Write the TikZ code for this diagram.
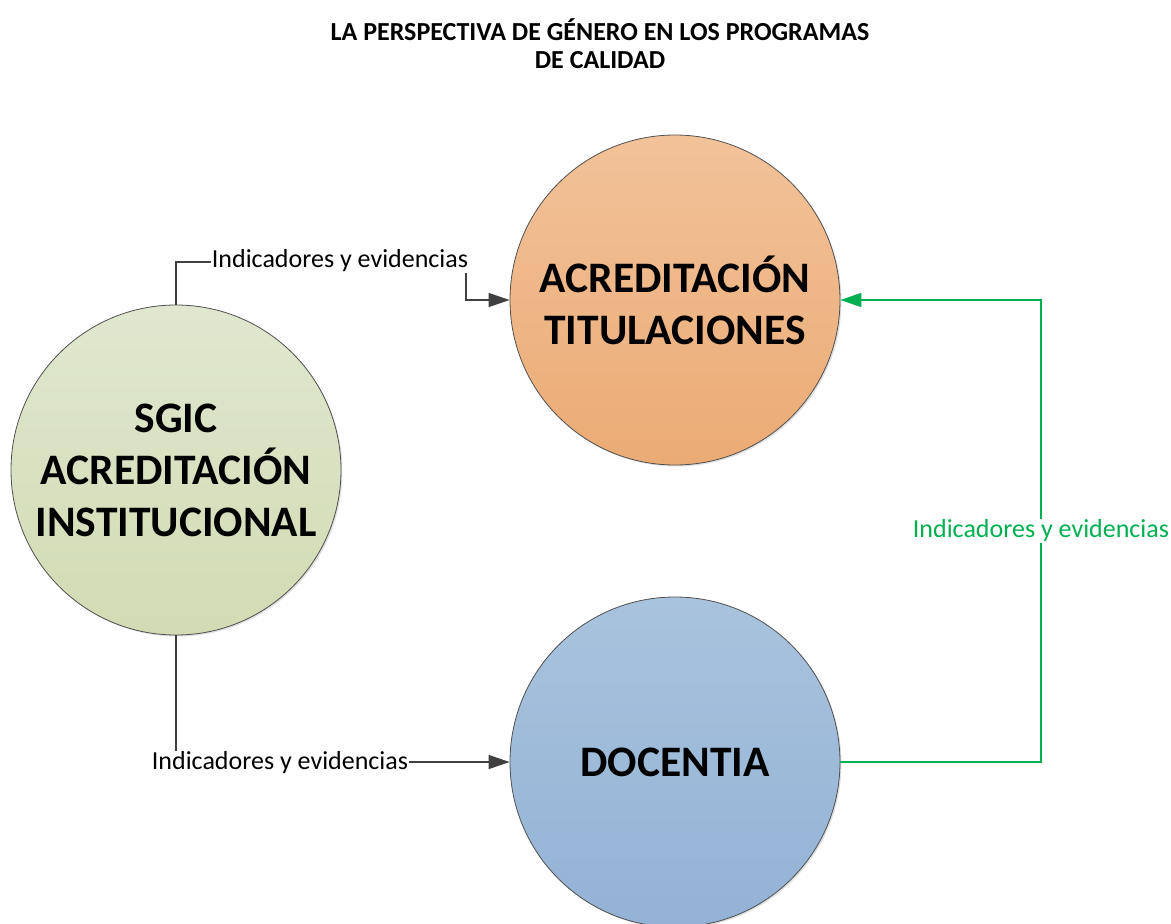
\documentclass[tikz,border=0pt]{standalone}
\usepackage{fontspec}
\setmainfont{Carlito}
\usetikzlibrary{arrows.meta,shadows}
\definecolor{lnk}{HTML}{404040}
\definecolor{grn}{HTML}{00B050}
\definecolor{outl}{HTML}{505050}
\definecolor{gtop}{HTML}{E0E7CF}
\definecolor{gbot}{HTML}{D2DBB3}
\definecolor{otop}{HTML}{F2C299}
\definecolor{obot}{HTML}{EBAB75}
\definecolor{btop}{HTML}{A9C3DD}
\definecolor{bbot}{HTML}{93B2D6}
\tikzset{
  bigcirc/.style={circle, draw=outl, line width=0.8pt, minimum size=330pt, inner sep=0pt,
    align=center, font=\fontsize{43.5}{52}\selectfont\bfseries,
    drop shadow={shadow xshift=1.5pt, shadow yshift=-1.5pt, fill=black!25}},
  conn/.style={draw=lnk, line width=1.3pt},
  tip/.style={-{Triangle[length=21pt,width=14pt]}},
  lbl/.style={fill=white, inner sep=1pt, font=\fontsize{26}{30}\selectfont},
}
\begin{document}
\begin{tikzpicture}[x=1pt,y=-1pt]
\useasboundingbox (0,0) rectangle (1171,924);
\node[font=\fontsize{26}{28}\selectfont\bfseries, align=center] (title) at (600,44)
  {LA PERSPECTIVA DE GÉNERO EN LOS PROGRAMAS\\DE CALIDAD};
\node[bigcirc, top color=gtop, bottom color=gbot] (sgic) at (176,470)
  {SGIC\\ACREDITACIÓN\\INSTITUCIONAL};
\node[bigcirc, top color=otop, bottom color=obot] (acr) at (675,300)
  {ACREDITACIÓN\\TITULACIONES};
\node[bigcirc, top color=btop, bottom color=bbot] (doc) at (675,762)
  {DOCENTIA};
\coordinate (c1) at (176,262);
\coordinate (c2) at (466,262);
\coordinate (c3) at (466,300);
\draw[conn, tip] (sgic.north) -- (c1) -- (c2) -- (c3) -- (acr.west);
\node[lbl] (l1) at (340,261) {Indicadores y evidencias};
\coordinate (c4) at (176,762);
\draw[conn, tip] (sgic.south) -- (c4) -- (doc.west);
\node[lbl] (l2) at (280,763) {Indicadores y evidencias};
\coordinate (c5) at (1041,762);
\coordinate (c6) at (1041,300);
\draw[draw=grn, line width=1.5pt, tip] (doc.east) -- (c5) -- (c6) -- (acr.east);
\node[lbl, text=grn] (l3) at (1041,531) {Indicadores y evidencias};
\end{tikzpicture}
\end{document}
